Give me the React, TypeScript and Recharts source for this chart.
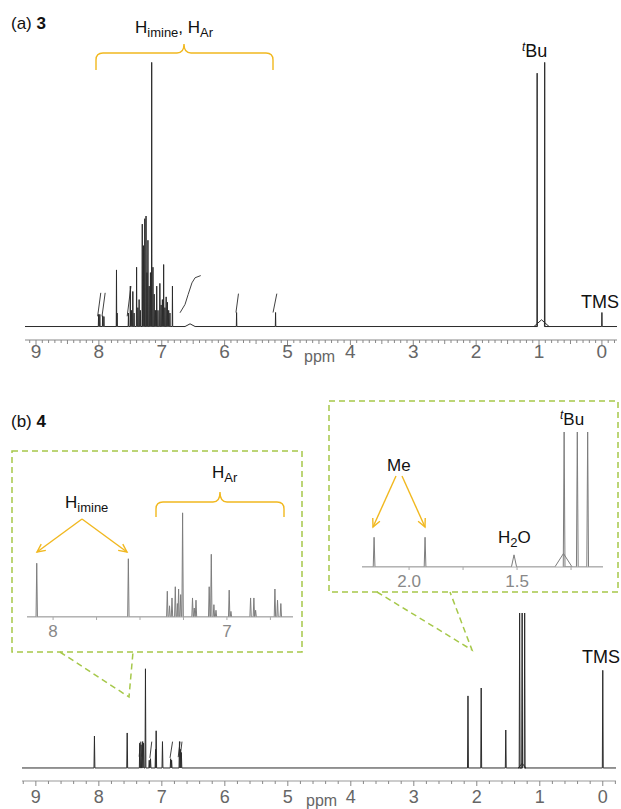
import React from 'react';
import { LineChart, Line, XAxis, YAxis } from 'recharts';

const FONT = '"Liberation Sans", Arial, Helvetica, sans-serif';
const INK = '#2b2b2b';
const INSET_INK = '#7d7d7d';
const GOLD = '#f1b81f';
const GREEN = '#a6c84a';

// [ppm, intensity, half-width (optional)]
// (a) compound 3
const peaks3 = [
  [8.005, 4.5], [7.985, 4.5], [7.94, 4], [7.92, 3.7], [7.72, 21], [7.71, 5],
  [7.53, 5], [7.5, 15], [7.48, 6], [7.46, 13], [7.44, 5], [7.4, 22], [7.38, 7], [7.36, 10], [7.34, 6],
  [7.31, 38], [7.29, 30], [7.27, 40], [7.25, 41], [7.235, 20], [7.22, 32], [7.2, 15], [7.18, 20],
  [7.16, 98], [7.14, 22], [7.12, 12], [7.1, 6],
  [7.08, 15], [7.06, 6], [7.03, 16], [7.01, 8], [6.99, 10], [6.97, 23], [6.95, 7], [6.93, 11],
  [6.91, 9], [6.89, 6], [6.87, 5], [6.83, 15],
  [6.55, 1, 0.08],
  [5.81, 5.2], [5.19, 5.2],
  [1.03, 94], [0.96, 2.5, 0.12], [0.91, 98],
  [0.0, 5.2],
];
const integrals3 = [
  [[8.02, 3.8], [7.97, 12.5]],
  [[7.95, 3.8], [7.9, 12.5]],
  [[7.55, 3.8], [7.49, 15]],
  [[6.71, 5.1], [6.63, 8.2], [6.58, 11.9], [6.52, 16.2], [6.47, 18.1], [6.38, 18.9]],
  [[5.82, 5.2], [5.78, 12.2]],
  [[5.23, 5.2], [5.17, 12.2]],
];

// (b) compound 4, full range
const peaks4 = [
  [8.07, 20.6], [7.55, 22.6],
  [7.35, 16], [7.33, 15], [7.31, 17], [7.29, 16], [7.26, 64], [7.2, 5], [7.18, 6],
  [7.1, 12], [7.09, 24], [6.99, 17], [6.86, 6], [6.845, 5], [6.72, 17], [6.705, 12], [6.69, 10],
  [2.14, 46.5], [1.93, 51.6], [1.54, 24.5],
  [1.32, 100], [1.28, 100], [1.28, 3, 0.06], [1.24, 100],
  [0.0, 63],
];
const integrals4 = [
  [[7.36, 7.3], [7.34, 17]],
  [[7.32, 7.3], [7.3, 17]],
  [[7.19, 6.5], [7.16, 17]],
  [[6.87, 6.5], [6.83, 17]],
  [[6.74, 7], [6.71, 17]],
  [[6.71, 7], [6.68, 17]],
];

// (b) inset: aromatic / imine region
const peaks4Ar = [
  [8.094, 48], [7.567, 52],
  [7.343, 23], [7.33, 10], [7.316, 17], [7.297, 27], [7.285, 12], [7.278, 25], [7.266, 20], [7.255, 93],
  [7.198, 17], [7.188, 8], [7.178, 15],
  [7.102, 27], [7.09, 56], [7.075, 11], [7.063, 6],
  [6.987, 24], [6.977, 5],
  [6.864, 17], [6.845, 17], [6.835, 6],
  [6.724, 25], [6.709, 15], [6.69, 12],
];
// (b) inset: aliphatic region
const peaks4Al = [
  [2.162, 22], [1.926, 22], [1.514, 9, 0.012],
  [1.285, 10, 0.04], [1.282, 100], [1.221, 100], [1.173, 100],
];

const domain3 = [-0.24, 9.175];
const domain4 = [-0.21, 9.22];
const domainAr = [6.62, 8.15];
const domainAl = [1.102, 2.218];

const ticksAr = [8, 7.75, 7.5, 7.25, 7, 6.75];
const labelsAr = [8, 7];
const ticksAl = [2.0, 1.75, 1.5, 1.25];
const labelsAl = [2.0, 1.5];

const stepTicks = (lo: number, hi: number, step: number) => {
  const n = Math.round((hi - lo) / step);
  return Array.from({ length: n + 1 }, (_, i) => +(lo + i * step).toFixed(2));
};

const buildRows = (peaks: any[], domain: number[], hw: number, integrals: any[] = []) => {
  const rows: any[] = [{ ppm: domain[1], v: 0 }];
  [...peaks].sort((a, b) => b[0] - a[0]).forEach(([p, h, w]) => {
    const ww = w ?? hw;
    rows.push({ ppm: p + ww, v: 0 }, { ppm: p, v: h }, { ppm: p - ww, v: 0 });
  });
  rows.push({ ppm: domain[0], v: 0 });
  integrals.forEach((seg) => {
    rows.push({ ppm: seg[0][0], g: null });
    seg.forEach(([p, g]: number[]) => rows.push({ ppm: p, g }));
  });
  return rows;
};

const MainTick = (props: any) => {
  const { x, y, payload, fine, fontSize, labelDy } = props;
  const v = payload.value;
  const isInt = Math.abs(v - Math.round(v)) < 1e-6;
  const isHalf = Math.abs(v * 2 - Math.round(v * 2)) < 1e-6;
  const len = isInt ? 5 : fine && isHalf ? 4 : 3;
  return (
    <g>
      <line x1={x} x2={x} y1={y} y2={y + len} stroke="#888" strokeWidth={1} />
      {isInt && v >= 0 && v <= 9 && (
        <text x={x} y={y + labelDy} textAnchor="middle" fontSize={fontSize} fill="#666" fontFamily={FONT}>
          {Math.round(v)}
        </text>
      )}
    </g>
  );
};

const InsetTick = (props: any) => {
  const { x, y, payload, labels, digits } = props;
  const v = payload.value;
  const labeled = labels.some((l: number) => Math.abs(l - v) < 1e-6);
  return (
    <g>
      <line x1={x} x2={x} y1={y} y2={y + 3} stroke="#aaa" strokeWidth={1} />
      {labeled && (
        <text x={x} y={y + 20} textAnchor="middle" fontSize={17} fill="#888" fontFamily={FONT}>
          {v.toFixed(digits)}
        </text>
      )}
    </g>
  );
};

const Spectrum = (p: any) => (
  <div style={{ position: 'absolute', left: p.left, top: p.top }}>
    <LineChart width={p.width} height={p.height} data={p.rows} margin={p.margin}>
      <XAxis
        dataKey="ppm"
        type="number"
        domain={p.domain}
        reversed
        allowDataOverflow
        ticks={p.ticks}
        interval={0}
        tick={p.tick}
        tickLine={false}
        tickSize={0}
        tickMargin={0}
        height={p.axisHeight}
        axisLine={{ stroke: p.axisStroke }}
      />
      <YAxis hide domain={p.yDomain} allowDataOverflow />
      <Line dataKey="v" type="linear" stroke={p.stroke} strokeWidth={1} dot={false} isAnimationActive={false} />
      <Line dataKey="g" type="linear" stroke={p.stroke} strokeWidth={0.9} dot={false} isAnimationActive={false} />
    </LineChart>
  </div>
);

const Arrow = ({ x1, y1, x2, y2 }: any) => {
  const a = Math.atan2(y2 - y1, x2 - x1);
  const L = 9;
  const s = 0.45;
  const h1 = `${x2 - L * Math.cos(a - s)},${y2 - L * Math.sin(a - s)}`;
  const h2 = `${x2 - L * Math.cos(a + s)},${y2 - L * Math.sin(a + s)}`;
  return (
    <g stroke={GOLD} strokeWidth={1.4} fill="none">
      <line x1={x1} y1={y1} x2={x2} y2={y2} />
      <polyline points={`${h1} ${x2},${y2} ${h2}`} />
    </g>
  );
};

const Sub = ({ children }: any) => (
  <tspan fontSize={13} dy={4}>{children}</tspan>
);

export default function App() {
  const rows3 = buildRows(peaks3, domain3, 0.004, integrals3);
  const rows4 = buildRows(peaks4, domain4, 0.007, integrals4);
  const rowsAr = buildRows(peaks4Ar, domainAr, 0.004);
  const rowsAl = buildRows(peaks4Al, domainAl, 0.004);

  return (
    <div style={{ position: 'absolute', left: 0, top: 0, width: 621, height: 809, background: '#fff', overflow: 'hidden' }}>
      <Spectrum
        left={0} top={0} width={621} height={370}
        margin={{ top: 57, right: 4, left: 25, bottom: 0 }}
        axisHeight={30}
        domain={domain3} yDomain={[-5, 100]}
        ticks={stepTicks(-0.2, 9.1, 0.1)}
        tick={<MainTick fine fontSize={19} labelDy={18} />}
        rows={rows3} stroke={INK} axisStroke="#888"
      />
      <Spectrum
        left={0} top={580} width={621} height={229}
        margin={{ top: 33, right: 5, left: 22, bottom: 0 }}
        axisHeight={28}
        domain={domain4} yDomain={[-8.4, 100]}
        ticks={stepTicks(-0.2, 9.2, 0.2)}
        tick={<MainTick fontSize={18} labelDy={22} />}
        rows={rows4} stroke={INK} axisStroke="#999"
      />
      <Spectrum
        left={0} top={480} width={310} height={170}
        margin={{ top: 25, right: 17, left: 27, bottom: 0 }}
        axisHeight={33}
        domain={domainAr} yDomain={[0, 100]}
        ticks={ticksAr}
        tick={<InsetTick labels={labelsAr} digits={0} />}
        rows={rowsAr} stroke={INSET_INK} axisStroke="#aaa"
      />
      <Spectrum
        left={330} top={400} width={290} height={200}
        margin={{ top: 32, right: 17, left: 32, bottom: 0 }}
        axisHeight={33}
        domain={domainAl} yDomain={[0, 100]}
        ticks={ticksAl}
        tick={<InsetTick labels={labelsAl} digits={1} />}
        rows={rowsAl} stroke={INSET_INK} axisStroke="#aaa"
      />

      <svg width={621} height={809} style={{ position: 'absolute', left: 0, top: 0, pointerEvents: 'none' }} fontFamily={FONT}>
        {/* panel (a) */}
        <text x={11} y={29} fontSize={17} fill="#111">(a) <tspan fontWeight="bold">3</tspan></text>
        <text x={135} y={33} fontSize={17} fill="#111">
          H<Sub>imine</Sub><tspan dy={-4}>, H</tspan><Sub>Ar</Sub>
        </text>
        <path
          d="M96,70 L96,60 Q96,53 103,53 L177,53 Q184,53 184,44 Q184,53 191,53 L266,53 Q273,53 273,60 L273,70"
          fill="none" stroke={GOLD} strokeWidth={1.4}
        />
        <text x={522} y={57} fontSize={18} fill="#111">
          <tspan fontStyle="italic" fontSize={12} dy={-6}>t</tspan><tspan dy={6}>Bu</tspan>
        </text>
        <text x={581} y={308} fontSize={18} fill="#111">TMS</text>
        <text x={304} y={362} fontSize={16} fill="#666">ppm</text>

        {/* panel (b) */}
        <text x={11} y={427} fontSize={17} fill="#111">(b) <tspan fontWeight="bold">4</tspan></text>
        <g fill="none" stroke={GREEN} strokeWidth={1.5} strokeDasharray="6 4">
          <rect x={12} y={451} width={290} height={201} />
          <polyline points="60,652 129,697 133,652" />
          <rect x={329} y={401} width={289} height={191} />
          <polyline points="377,592 472,650 450,592" />
        </g>
        <text x={65} y={508} fontSize={17} fill="#111">
          H<Sub>imine</Sub>
        </text>
        <Arrow x1={82} y1={519} x2={37} y2={552} />
        <Arrow x1={82} y1={519} x2={127} y2={552} />
        <text x={212} y={478} fontSize={17} fill="#111">
          H<Sub>Ar</Sub>
        </text>
        <path
          d="M156,517 L156,509 Q156,502 163,502 L213,502 Q220,502 220,492 Q220,502 227,502 L277,502 Q284,502 284,509 L284,517"
          fill="none" stroke={GOLD} strokeWidth={1.4}
        />
        <text x={387} y={471} fontSize={17} fill="#111">Me</text>
        <Arrow x1={396} y1={476} x2={373} y2={527} />
        <Arrow x1={402} y1={476} x2={425} y2={527} />
        <text x={498} y={543} fontSize={17} fill="#111">
          H<Sub>2</Sub><tspan dy={-4}>O</tspan>
        </text>
        <text x={560} y={425} fontSize={17} fill="#111">
          <tspan fontStyle="italic" fontSize={12} dy={-6}>t</tspan><tspan dy={6}>Bu</tspan>
        </text>
        <text x={582} y={663} fontSize={18} fill="#111">TMS</text>
        <text x={306} y={806} fontSize={16} fill="#666">ppm</text>
      </svg>
    </div>
  );
}
